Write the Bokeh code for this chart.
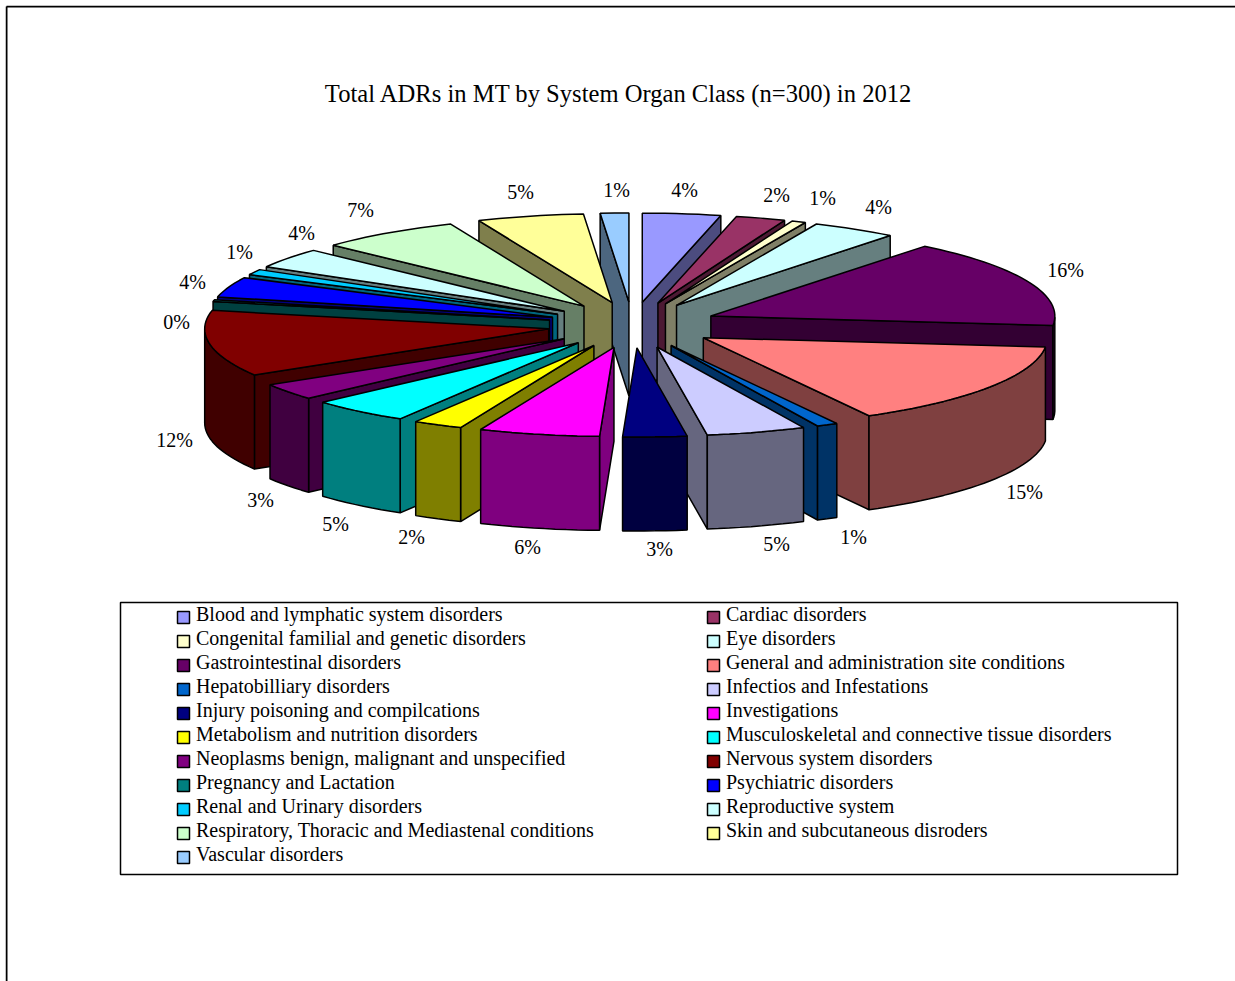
import math
from bokeh.plotting import figure
from bokeh.embed import file_html
from bokeh.resources import INLINE
from bokeh.core.properties import value

# ---- chart data (ADR counts, n=300) ----
categories = ["Blood and lymphatic system disorders", "Cardiac disorders",
              "Congenital familial and genetic disorders", "Eye disorders",
              "Gastrointestinal disorders", "General and administration site conditions",
              "Hepatobilliary disorders", "Infectios and Infestations",
              "Injury poisoning and compilcations", "Investigations",
              "Metabolism and nutrition disorders", "Musculoskeletal and connective tissue disorders",
              "Neoplasms benign, malignant and unspecified", "Nervous system disorders",
              "Pregnancy and Lactation", "Psychiatric disorders",
              "Renal and Urinary disorders", "Reproductive system",
              "Respiratory, Thoracic and Mediastenal conditions", "Skin and subcutaneous disroders",
              "Vascular disorders"]
values = [11, 7, 2, 12, 48, 46, 3, 14, 9, 17, 7, 14, 9, 36, 1, 11, 3, 11, 20, 15, 4]
labels = ["4%", "2%", "1%", "4%", "16%", "15%", "1%", "5%", "3%", "6%", "2%", "5%", "3%", "12%", "0%", "4%", "1%", "4%", "7%", "5%", "1%"]
colors = ["#9999FF", "#993366", "#FFFFCC", "#CCFFFF", "#660066", "#FF8080", "#0066CC", "#CCCCFF",
          "#000080", "#FF00FF", "#FFFF00", "#00FFFF", "#800080", "#800000", "#008080", "#0000FF",
          "#00CCFF", "#CCFFFF", "#CCFFCC", "#FFFF99", "#99CCFF"]
title = "Total ADRs in MT by System Organ Class (n=300) in 2012"

# ---- layout ----
label_x = [684, 776, 822, 878, 1065, 1024, 853, 776, 659, 527, 411, 335, 260, 174, 176, 192, 239, 301, 360, 520, 616]
label_y = [189, 194, 197, 206, 269, 491, 536, 543, 548, 546, 536, 523, 499, 439, 321, 281, 251, 232, 209, 191, 189]
CX, CY, RX, RY = 632.0, 324.5, 344.0, 89.0
EX, EY, DEPTH = 85.0, 23.0, 94.0
X0, Y0 = 5, 5

def dark(c):
    return "#%02X%02X%02X" % tuple(int(c[i:i + 2], 16) // 2 for i in (1, 3, 5))

p = figure(width=1235 - X0, height=981 - Y0, x_range=(X0, 1235), y_range=(981, Y0),
           output_backend="svg", toolbar_location=None, min_border=0, outline_line_color=None)
p.axis.visible = False
p.grid.visible = False
p.styles = {"position": "absolute", "left": f"{X0}px", "top": f"{Y0}px"}

# page border
p.multi_line(xs=[[6, 6], [6, 1235]], ys=[[981, 6], [6, 6]], line_color="black", line_width=2)

# ---- pie ----
total = sum(values)
slices = []
acc = 0.0
for v, c in zip(values, colors):
    a0 = 2 * math.pi * acc / total
    a1 = 2 * math.pi * (acc + v) / total
    acc += v
    slices.append((a0, a1, c))

def pt(ax, ay, a):
    return ax + RX * math.sin(a), ay - RY * math.cos(a)

LW = 1.5
# painter's order: slices at the back first
for a0, a1, c in sorted(slices, key=lambda s: math.cos((s[0] + s[1]) / 2), reverse=True):
    mid = (a0 + a1) / 2
    ax = CX + EX * math.sin(mid)
    ay = CY - EY * math.cos(mid)
    n = max(2, int((a1 - a0) / 0.03))
    angs = [a0 + (a1 - a0) * i / n for i in range(n + 1)]
    arc = [pt(ax, ay, t) for t in angs]
    side = dark(c)
    # radial cut faces, kept only when they turn towards the viewer
    faces = []
    if math.sin(a0) < 0:
        faces.append(arc[0])
    if math.sin(a1) > 0:
        faces.append(arc[-1])
    for e in faces:
        p.patch([ax, e[0], e[0], ax], [ay, e[1], e[1] + DEPTH, ay + DEPTH],
                fill_color=side, line_color="black", line_width=LW)
    # outer wall: only the near half of the rim
    near = [t for t in angs if math.cos(t) <= 0]
    if len(near) >= 2:
        rim = [pt(ax, ay, t) for t in near]
        xs = [q[0] for q in rim] + [q[0] for q in reversed(rim)]
        ys = [q[1] for q in rim] + [q[1] + DEPTH for q in reversed(rim)]
        p.patch(xs, ys, fill_color=side, line_color="black", line_width=LW)
    p.patch([ax] + [q[0] for q in arc], [ay] + [q[1] for q in arc],
            fill_color=c, line_color="black", line_width=LW)

# ---- texts ----
serif = value("Liberation Serif")
p.text([618.5], [92.5], text=[title], text_font=serif, text_font_size="24.6px",
       text_align="center", text_baseline="middle", text_color="black")
p.text(label_x, label_y, text=labels, text_font=serif, text_font_size="20px",
       text_align="center", text_baseline="middle", text_color="black")

# ---- legend ----
p.quad(left=[120], right=[1177], top=[602], bottom=[874], fill_color="white", line_color="black", line_width=1.5)
idx = list(range(len(categories)))
sx = [183 + (i % 2) * 530 for i in idx]
sy = [617 + 24 * (i // 2) for i in idx]
tx = [195.5 + (i % 2) * 530 for i in idx]
ty = [613 + 24 * (i // 2) for i in idx]
p.rect(sx, sy, width=12, height=12, fill_color=colors, line_color="black", line_width=1.5)
p.text(tx, ty, text=categories, text_font=serif, text_font_size="20px",
       text_align="left", text_baseline="middle", text_color="black")

open("out.html", "w").write(file_html(p, INLINE))
